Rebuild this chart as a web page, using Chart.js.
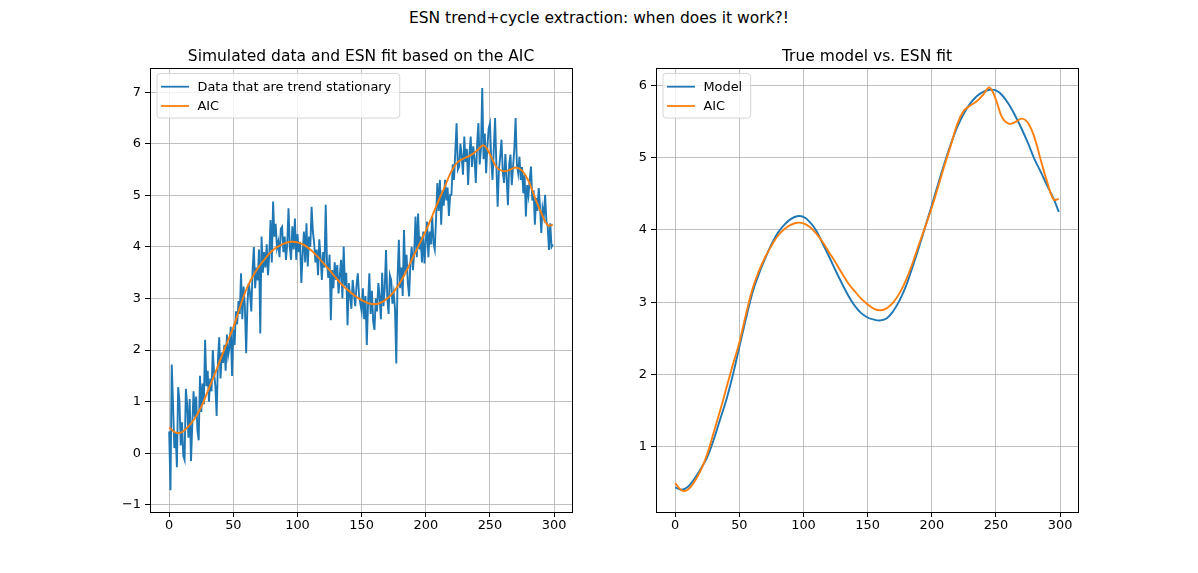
<!DOCTYPE html>
<html>
<head>
<meta charset="utf-8">
<script src="https://cdn.jsdelivr.net/npm/chart.js@4.4.0/dist/chart.umd.min.js"></script>
<style>
  body { margin: 0; background: #fff; }
  #wrap { position: relative; width: 1198px; height: 573px; }
  #sup { position: absolute; left: 0; top: 9px; width: 1198px; text-align: center;
         font: 15.5px "DejaVu Sans"; line-height: 18px; color: #000; }
  canvas { position: absolute; top: 0; }
</style>
</head>
<body>
<div id="wrap">
  <div id="sup">ESN trend+cycle extraction: when does it work?!</div>
  <canvas id="left" width="599" height="573" style="left:0"></canvas>
  <canvas id="right" width="599" height="573" style="left:599px"></canvas>
</div>
<script>
// time index of the simulated series
var t = Array.from({length: 300}, function(_, i){ return i; });

// simulated data
var simData = [
  0.42, -0.72, 1.72, 0.95, 0.10, 0.40, -0.27, 1.28, 1.00, 0.15,
  0.60, -0.05, -0.13, 1.25, 0.95, 0.30, 1.05, -0.15, 0.55, 1.20,
  0.70, 1.10, 0.45, 0.25, 1.50, 0.80, 1.35, 0.95, 2.20, 1.30,
  1.60, 1.00, 1.45, 1.20, 2.00, 1.55, 1.30, 0.72, 1.80, 2.25,
  1.45, 1.95, 1.75, 2.10, 1.60, 2.30, 1.90, 2.05, 2.45, 1.50,
  2.40, 2.10, 2.75, 2.50, 2.95, 2.70, 3.49, 2.60, 3.23, 2.85,
  1.94, 2.90, 3.30, 3.10, 2.75, 3.55, 4.00, 3.20, 3.60, 3.35,
  3.95, 2.32, 4.20, 3.50, 3.90, 3.60, 4.05, 3.45, 3.85, 4.52,
  3.70, 4.88, 4.20, 4.45, 3.98, 4.10, 3.80, 4.35, 4.39, 3.90,
  4.20, 3.75, 4.05, 4.75, 4.00, 3.75, 4.40, 3.95, 4.55, 3.75,
  4.25, 3.90, 4.10, 3.30, 3.85, 4.30, 3.70, 4.46, 3.62, 4.20,
  4.00, 4.78, 4.30, 4.07, 3.70, 3.95, 3.45, 4.15, 3.80, 3.36,
  3.90, 3.60, 4.82, 3.70, 3.40, 3.85, 2.58, 3.55, 3.20, 3.70,
  3.36, 3.65, 3.10, 3.45, 3.75, 3.00, 4.01, 3.25, 3.50, 2.48,
  3.30, 3.05, 2.80, 3.36, 3.10, 2.85, 3.25, 3.49, 3.05, 2.90,
  2.75, 3.20, 2.60, 3.05, 2.10, 2.90, 3.49, 2.70, 3.15, 2.55,
  2.39, 3.00, 2.75, 3.30, 3.04, 2.60, 3.50, 2.85, 3.20, 3.94,
  3.00, 2.70, 3.45, 3.36, 2.90, 3.10, 2.80, 1.74, 3.40, 4.14,
  3.20, 3.60, 3.05, 4.33, 3.50, 3.85, 3.30, 3.04, 3.70, 4.00,
  3.55, 3.90, 4.59, 3.80, 4.65, 3.95, 4.20, 3.70, 4.30, 3.68,
  4.10, 4.49, 3.80, 4.30, 4.05, 4.60, 4.07, 3.95, 4.55, 5.24,
  4.70, 5.30, 4.43, 5.10, 4.80, 5.30, 4.90, 5.15, 4.60, 5.01,
  5.01, 5.60, 5.30, 5.85, 6.40, 5.50, 5.56, 6.00, 5.75, 5.40,
  6.14, 5.65, 5.90, 5.20, 5.80, 6.14, 5.55, 5.95, 5.70, 5.24,
  6.00, 6.40, 5.60, 5.90, 7.08, 5.70, 6.20, 5.43, 5.95, 6.30,
  6.40, 5.70, 5.30, 5.90, 6.50, 5.60, 4.78, 5.50, 5.75, 6.08,
  5.45, 5.24, 5.80, 5.35, 4.81, 5.60, 5.79, 5.20, 5.55, 5.90,
  6.50, 5.60, 5.43, 5.75, 5.30, 5.55, 5.04, 5.40, 4.59, 5.20,
  5.00, 5.30, 5.56, 4.90, 5.10, 4.43, 4.95, 4.70, 5.14, 4.80,
  4.27, 4.75, 4.60, 5.01, 4.50, 4.40, 3.94, 4.46, 4.00, 4.05
];

// smooth curves, read every 5 steps
var fitX = [0, 5, 10, 15, 20, 25, 30, 35, 40, 45,
            50, 55, 60, 65, 70, 75, 80, 85, 90, 95,
            100, 105, 110, 115, 120, 125, 130, 135, 140, 145,
            150, 155, 160, 165, 170, 175, 180, 185, 190, 195,
            200, 205, 210, 215, 220, 225, 230, 235, 240, 245,
            250, 255, 260, 265, 270, 275, 280, 285, 290, 295, 299];

var aicFit = [0.50, 0.40, 0.41, 0.52, 0.68, 0.90, 1.20, 1.50, 1.82, 2.14,
              2.44, 2.82, 3.17, 3.42, 3.62, 3.78, 3.92, 4.01, 4.07, 4.10,
              4.09, 4.04, 3.95, 3.83, 3.69, 3.55, 3.40, 3.26, 3.15, 3.05,
              2.97, 2.91, 2.89, 2.92, 3.00, 3.13, 3.31, 3.54, 3.80, 4.05,
              4.31, 4.60, 4.90, 5.18, 5.47, 5.65, 5.72, 5.78, 5.87, 5.97,
              5.80, 5.55, 5.47, 5.49, 5.54, 5.48, 5.28, 4.96, 4.66, 4.42, 4.43];

var modelFit = [0.44, 0.41, 0.45, 0.56, 0.70, 0.86, 1.10, 1.38, 1.66, 2.00,
                2.38, 2.76, 3.12, 3.38, 3.60, 3.80, 3.96, 4.07, 4.15, 4.19,
                4.18, 4.11, 3.99, 3.81, 3.63, 3.44, 3.26, 3.09, 2.95, 2.85,
                2.79, 2.76, 2.75, 2.78, 2.88, 3.03, 3.23, 3.49, 3.76, 4.05,
                4.34, 4.64, 4.93, 5.20, 5.43, 5.61, 5.75, 5.85, 5.91, 5.94,
                5.93, 5.86, 5.74, 5.58, 5.40, 5.20, 4.98, 4.80, 4.61, 4.43, 4.25];

var xTicks = [0, 50, 100, 150, 200, 250, 300];
var yTicksLeft = [-1, 0, 1, 2, 3, 4, 5, 6, 7];
var yTicksRight = [1, 2, 3, 4, 5, 6];

var FONT = '"DejaVu Sans"';
var BLUE = '#1f77b4', ORANGE = '#ff7f0e';

function fmt(v){ return v < 0 ? '\u2212' + Math.abs(v) : String(v); }

function pts(xs, ys){ return xs.map(function(x, i){ return {x: x, y: ys[i]}; }); }

// black box round the axes, like matplotlib spines
var framePlugin = {
  id: 'frame',
  afterDatasetsDraw: function(chart){
    var a = chart.chartArea, ctx = chart.ctx;
    ctx.save();
    ctx.strokeStyle = '#000';
    ctx.lineWidth = 1;
    ctx.strokeRect(Math.round(a.left) + 0.5, Math.round(a.top) + 0.5,
                   Math.round(a.right - a.left), Math.round(a.bottom - a.top));
    ctx.restore();
  }
};

// panel title above the axes
var panelTitle = {
  id: 'panelTitle',
  afterDraw: function(chart, args, opts){
    var a = chart.chartArea, ctx = chart.ctx;
    ctx.save();
    ctx.font = '15.5px ' + FONT;
    ctx.fillStyle = '#000';
    ctx.textAlign = 'center';
    ctx.textBaseline = 'alphabetic';
    ctx.fillText(opts.text, (a.left + a.right) / 2, a.top - 7);
    ctx.restore();
  }
};

// legend box in the upper left corner
var boxLegend = {
  id: 'boxLegend',
  afterDatasetsDraw: function(chart){
    var a = chart.chartArea, ctx = chart.ctx;
    var sets = chart.data.datasets;
    ctx.save();
    ctx.font = '12.9px ' + FONT;
    var w = 0;
    sets.forEach(function(d){ w = Math.max(w, ctx.measureText(d.label).width); });
    var x0 = a.left + 7, y0 = a.top + 5.5, bw = 41 + w + 8, bh = 44.5, r = 3;
    ctx.beginPath();
    ctx.moveTo(x0 + r, y0);
    ctx.arcTo(x0 + bw, y0, x0 + bw, y0 + bh, r);
    ctx.arcTo(x0 + bw, y0 + bh, x0, y0 + bh, r);
    ctx.arcTo(x0, y0 + bh, x0, y0, r);
    ctx.arcTo(x0, y0, x0 + bw, y0, r);
    ctx.closePath();
    ctx.fillStyle = 'rgba(255,255,255,0.8)';
    ctx.fill();
    ctx.strokeStyle = '#d6d6d6';
    ctx.lineWidth = 1;
    ctx.stroke();
    sets.forEach(function(d, i){
      var y = y0 + 13.2 + i * 19.3;
      ctx.beginPath();
      ctx.moveTo(x0 + 4, y);
      ctx.lineTo(x0 + 32, y);
      ctx.strokeStyle = d.borderColor;
      ctx.lineWidth = 1.8;
      ctx.stroke();
      ctx.fillStyle = '#000';
      ctx.textBaseline = 'middle';
      ctx.fillText(d.label, x0 + 40.5, y + 0.5);
    });
    ctx.restore();
  }
};

function makeScales(yMin, yMax, yTicks, yWidth){
  var tickFont = {family: FONT, size: 12.9};
  var grid = {color: '#b0b0b0', lineWidth: 0.8, tickColor: '#000', tickLength: 5, tickWidth: 1};
  return {
    x: {
      type: 'linear', min: -14.95, max: 313.95,
      afterBuildTicks: function(s){ s.ticks = xTicks.map(function(v){ return {value: v}; }); },
      afterFit: function(s){ s.height = 25; },
      grid: grid,
      border: {display: false},
      ticks: {color: '#000', font: tickFont, padding: 1, maxRotation: 0, autoSkip: false, callback: fmt}
    },
    y: {
      type: 'linear', min: yMin, max: yMax,
      afterBuildTicks: function(s){ s.ticks = yTicks.map(function(v){ return {value: v}; }); },
      afterFit: function(s){ s.width = yWidth; },
      grid: grid,
      border: {display: false},
      ticks: {color: '#000', font: tickFont, padding: 4, autoSkip: false, callback: fmt}
    }
  };
}

var common = {
  responsive: false,
  animation: false,
  events: [],
  elements: {point: {radius: 0}},
  plugins: {legend: {display: false}, tooltip: {enabled: false}}
};

var leftChart = new Chart(document.getElementById('left'), {
  type: 'line',
  data: {
    datasets: [
      {label: 'Data that are trend stationary', data: pts(t, simData),
       borderColor: BLUE, borderWidth: 1.9, pointRadius: 0, tension: 0, order: 1},
      {label: 'AIC', data: pts(fitX, aicFit),
       borderColor: ORANGE, borderWidth: 1.9, pointRadius: 0, tension: 0.4, order: 0}
    ]
  },
  options: Object.assign({}, common, {
    layout: {padding: {left: 110, right: 27, top: 68, bottom: 36}},
    scales: makeScales(-1.14, 7.47, yTicksLeft, 40),
    plugins: Object.assign({}, common.plugins, {panelTitle: {text: 'Simulated data and ESN fit based on the AIC'}})
  }),
  plugins: [framePlugin, boxLegend, panelTitle]
});

var rightChart = new Chart(document.getElementById('right'), {
  type: 'line',
  data: {
    datasets: [
      {label: 'Model', data: pts(fitX, modelFit),
       borderColor: BLUE, borderWidth: 1.9, pointRadius: 0, tension: 0.4, order: 1},
      {label: 'AIC', data: pts(fitX, aicFit),
       borderColor: ORANGE, borderWidth: 1.9, pointRadius: 0, tension: 0.4, order: 0}
    ]
  },
  options: Object.assign({}, common, {
    layout: {padding: {left: 27, right: 120, top: 68, bottom: 36}},
    scales: makeScales(0.1, 6.24, yTicksRight, 30),
    plugins: Object.assign({}, common.plugins, {panelTitle: {text: 'True model vs. ESN fit'}})
  }),
  plugins: [framePlugin, boxLegend, panelTitle]
});
</script>
</body>
</html>
